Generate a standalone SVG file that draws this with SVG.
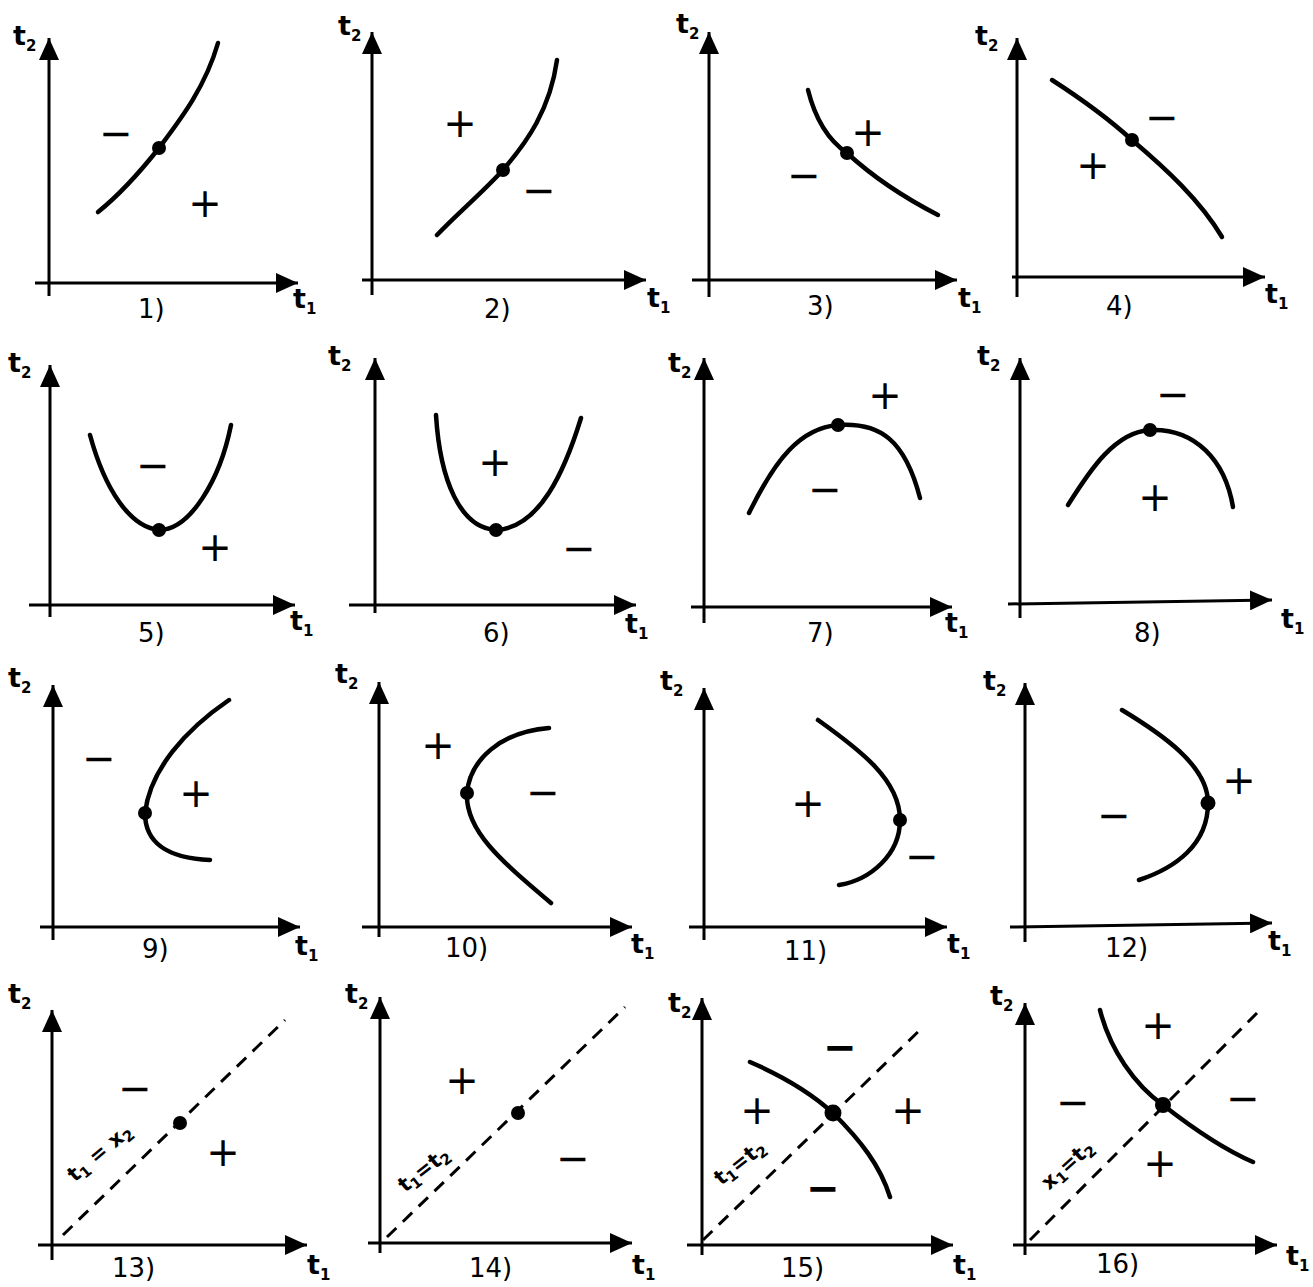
<svg xmlns="http://www.w3.org/2000/svg" width="1313" height="1287" viewBox="0 0 1313 1287">
<style>
.ax{stroke:#000;stroke-width:3;fill:none;marker-end:url(#arr)}
.cv{stroke:#000;stroke-width:4.5;fill:none;stroke-linecap:round}
.ds{stroke:#000;stroke-width:3;fill:none;stroke-dasharray:13 9}
.dot{fill:#000}
.lb{font-family:"DejaVu Sans","Liberation Sans",sans-serif;font-size:27px;font-weight:bold;fill:#000}
.sb{font-size:15px}
.nm{font-family:"DejaVu Sans","Liberation Sans",sans-serif;font-size:26px;fill:#000}
.sg{font-family:"DejaVu Sans","Liberation Sans",sans-serif;font-size:40px;fill:#000;text-anchor:middle;dominant-baseline:central}
.bd{font-weight:bold}
.dl{font-family:"DejaVu Sans","Liberation Sans",sans-serif;font-size:21px;font-weight:bold;fill:#000;text-anchor:middle}
</style>
<defs>
<marker id="arr" viewBox="0 0 22 20" refX="22" refY="10" markerWidth="22" markerHeight="20" markerUnits="userSpaceOnUse" orient="auto">
<path d="M0,0 L22,10 L0,20 Z" fill="#000"/>
</marker>
</defs>
<rect width="1313" height="1287" fill="#fff"/>

<g id="panel-1">
<path class="ax" d="M49,296 L49,38"/><path class="ax" d="M35,283 L298,283"/>
<path class="cv" d="M98,212 C118,196 140,172 159,148 C180,120 205,88 218,43"/>
<circle class="dot" cx="159" cy="148" r="7"/>
<text class="sg" x="116" y="133">−</text><text class="sg" x="205" y="203">+</text>
<text class="lb" x="13" y="45">t<tspan class="sb" dy="6">2</tspan></text>
<text class="lb" x="293" y="308">t<tspan class="sb" dy="6">1</tspan></text>
<text class="nm" x="138" y="318">1)</text>
</g>

<g id="panel-2">
<path class="ax" d="M372,295 L372,32"/><path class="ax" d="M362,280 L646,280"/>
<path class="cv" d="M437,235 C458,213 482,193 503,170 C527,142 550,110 557,60"/>
<circle class="dot" cx="503" cy="170" r="7"/>
<text class="sg" x="460" y="123">+</text><text class="sg" x="539" y="190">−</text>
<text class="lb" x="338" y="35">t<tspan class="sb" dy="6">2</tspan></text>
<text class="lb" x="647" y="307">t<tspan class="sb" dy="6">1</tspan></text>
<text class="nm" x="484" y="318">2)</text>
</g>

<g id="panel-3">
<path class="ax" d="M709,297 L709,32"/><path class="ax" d="M692,280 L957,280"/>
<path class="cv" d="M808,90 C815,118 828,140 847,153 C872,176 905,198 938,215"/>
<circle class="dot" cx="847" cy="153" r="7"/>
<text class="sg" x="868" y="132">+</text><text class="sg" x="804" y="175">−</text>
<text class="lb" x="676" y="33">t<tspan class="sb" dy="6">2</tspan></text>
<text class="lb" x="958" y="307">t<tspan class="sb" dy="6">1</tspan></text>
<text class="nm" x="807" y="315">3)</text>
</g>

<g id="panel-4">
<path class="ax" d="M1017,297 L1017,38"/><path class="ax" d="M1012,277 L1265,277"/>
<path class="cv" d="M1052,80 C1080,98 1110,120 1132,140 C1165,168 1200,200 1222,237"/>
<circle class="dot" cx="1132" cy="140" r="7"/>
<text class="sg" x="1162" y="117">−</text><text class="sg" x="1093" y="165">+</text>
<text class="lb" x="975" y="45">t<tspan class="sb" dy="6">2</tspan></text>
<text class="lb" x="1265" y="303">t<tspan class="sb" dy="6">1</tspan></text>
<text class="nm" x="1106" y="315">4)</text>
</g>

<g id="panel-5">
<path class="ax" d="M50,617 L50,365"/><path class="ax" d="M29,605 L295,605"/>
<path class="cv" d="M90,435 C105,490 130,527 159,530 C190,530 220,480 231,425"/>
<circle class="dot" cx="159" cy="530" r="7"/>
<text class="sg" x="153" y="465">−</text><text class="sg" x="215" y="547">+</text>
<text class="lb" x="8" y="372">t<tspan class="sb" dy="6">2</tspan></text>
<text class="lb" x="290" y="630">t<tspan class="sb" dy="6">1</tspan></text>
<text class="nm" x="138" y="642">5)</text>
</g>

<g id="panel-6">
<path class="ax" d="M375,613 L375,358"/><path class="ax" d="M349,605 L636,605"/>
<path class="cv" d="M436,415 C440,480 460,528 496,530 C540,528 565,470 581,418"/>
<circle class="dot" cx="496" cy="530" r="7"/>
<text class="sg" x="495" y="462">+</text><text class="sg" x="579" y="548">−</text>
<text class="lb" x="328" y="365">t<tspan class="sb" dy="6">2</tspan></text>
<text class="lb" x="625" y="633">t<tspan class="sb" dy="6">1</tspan></text>
<text class="nm" x="483" y="642">6)</text>
</g>

<g id="panel-7">
<path class="ax" d="M704,623 L704,358"/><path class="ax" d="M691,607 L952,607"/>
<path class="cv" d="M749,513 C775,460 800,428 838,425 C880,422 905,440 920,498"/>
<circle class="dot" cx="838" cy="425" r="7"/>
<text class="sg" x="885" y="395">+</text><text class="sg" x="825" y="489">−</text>
<text class="lb" x="668" y="372">t<tspan class="sb" dy="6">2</tspan></text>
<text class="lb" x="945" y="632">t<tspan class="sb" dy="6">1</tspan></text>
<text class="nm" x="807" y="642">7)</text>
</g>

<g id="panel-8">
<path class="ax" d="M1020,618 L1020,358"/><path class="ax" d="M1008,604 L1272,600"/>
<path class="cv" d="M1068,505 C1090,470 1115,432 1150,430 C1195,428 1225,460 1233,507"/>
<circle class="dot" cx="1150" cy="430" r="7"/>
<text class="sg" x="1173" y="394">−</text><text class="sg" x="1155" y="497">+</text>
<text class="lb" x="977" y="365">t<tspan class="sb" dy="6">2</tspan></text>
<text class="lb" x="1281" y="628">t<tspan class="sb" dy="6">1</tspan></text>
<text class="nm" x="1134" y="642">8)</text>
</g>

<g id="panel-9">
<path class="ax" d="M53,940 L53,685"/><path class="ax" d="M40,927 L300,927"/>
<path class="cv" d="M229,700 C185,730 150,770 145,813 C145,845 170,858 210,860"/>
<circle class="dot" cx="145" cy="813" r="7"/>
<text class="sg" x="99" y="758">−</text><text class="sg" x="196" y="793">+</text>
<text class="lb" x="8" y="687">t<tspan class="sb" dy="6">2</tspan></text>
<text class="lb" x="295" y="955">t<tspan class="sb" dy="6">1</tspan></text>
<text class="nm" x="142" y="958">9)</text>
</g>

<g id="panel-10">
<path class="ax" d="M379,937 L379,682"/><path class="ax" d="M362,927 L632,927"/>
<path class="cv" d="M549,728 C500,732 470,760 467,793 C465,830 500,860 551,903"/>
<circle class="dot" cx="467" cy="793" r="7"/>
<text class="sg" x="438" y="745">+</text><text class="sg" x="543" y="792">−</text>
<text class="lb" x="335" y="683">t<tspan class="sb" dy="6">2</tspan></text>
<text class="lb" x="631" y="953">t<tspan class="sb" dy="6">1</tspan></text>
<text class="nm" x="445" y="957">10)</text>
</g>

<g id="panel-11">
<path class="ax" d="M704,940 L704,688"/><path class="ax" d="M689,927 L947,927"/>
<path class="cv" d="M818,720 C860,750 900,780 900,820 C900,855 870,880 839,885"/>
<circle class="dot" cx="900" cy="820" r="7"/>
<text class="sg" x="808" y="803">+</text><text class="sg" x="922" y="856">−</text>
<text class="lb" x="660" y="690">t<tspan class="sb" dy="6">2</tspan></text>
<text class="lb" x="947" y="953">t<tspan class="sb" dy="6">1</tspan></text>
<text class="nm" x="784" y="960">11)</text>
</g>

<g id="panel-12">
<path class="ax" d="M1025,942 L1025,683"/><path class="ax" d="M1010,927 L1272,923"/>
<path class="cv" d="M1122,710 C1160,733 1208,765 1208,803 C1208,845 1175,868 1139,880"/>
<circle class="dot" cx="1208" cy="803" r="7.5"/>
<text class="sg" x="1239" y="780">+</text><text class="sg" x="1114" y="815">−</text>
<text class="lb" x="983" y="690">t<tspan class="sb" dy="6">2</tspan></text>
<text class="lb" x="1268" y="950">t<tspan class="sb" dy="6">1</tspan></text>
<text class="nm" x="1105" y="957">12)</text>
</g>

<g id="panel-13">
<path class="ax" d="M52,1260 L52,1010"/><path class="ax" d="M38,1245 L307,1245"/>
<path class="ds" d="M63,1235 L285,1020"/>
<circle class="dot" cx="180" cy="1123" r="7"/>
<text class="sg" x="135" y="1088">−</text><text class="sg" x="223" y="1152">+</text>
<text class="dl" transform="translate(104,1158) rotate(-40)">t<tspan class="sb" dy="4">1</tspan><tspan dy="-4"> = x</tspan><tspan class="sb" dy="4">2</tspan></text>
<text class="lb" x="8" y="1003">t<tspan class="sb" dy="6">2</tspan></text>
<text class="lb" x="307" y="1274">t<tspan class="sb" dy="6">1</tspan></text>
<text class="nm" x="112" y="1277">13)</text>
</g>

<g id="panel-14">
<path class="ax" d="M380,1253 L380,997"/><path class="ax" d="M368,1243 L632,1243"/>
<path class="ds" d="M387,1237 L625,1007"/>
<circle class="dot" cx="518" cy="1113" r="7"/>
<text class="sg" x="462" y="1080">+</text><text class="sg" x="573" y="1158">−</text>
<text class="dl" transform="translate(428,1175) rotate(-38)">t<tspan class="sb" dy="4">1</tspan><tspan dy="-4">=t</tspan><tspan class="sb" dy="4">2</tspan></text>
<text class="lb" x="345" y="1003">t<tspan class="sb" dy="6">2</tspan></text>
<text class="lb" x="632" y="1274">t<tspan class="sb" dy="6">1</tspan></text>
<text class="nm" x="469" y="1277">14)</text>
</g>

<g id="panel-15">
<path class="ax" d="M702,1255 L702,998"/><path class="ax" d="M687,1245 L953,1245"/>
<path class="ds" d="M703,1240 L922,1028"/>
<path class="cv" d="M750,1062 C780,1075 810,1092 833,1113 C860,1140 880,1165 890,1197"/>
<circle class="dot" cx="833" cy="1113" r="8.5"/>
<text class="sg bd" x="840" y="1047">−</text><text class="sg" x="757" y="1110">+</text>
<text class="sg" x="908" y="1110">+</text><text class="sg bd" x="823" y="1188">−</text>
<text class="dl" transform="translate(744,1168) rotate(-38)">t<tspan class="sb" dy="4">1</tspan><tspan dy="-4">=t</tspan><tspan class="sb" dy="4">2</tspan></text>
<text class="lb" x="668" y="1012">t<tspan class="sb" dy="6">2</tspan></text>
<text class="lb" x="953" y="1274">t<tspan class="sb" dy="6">1</tspan></text>
<text class="nm" x="781" y="1277">15)</text>
</g>

<g id="panel-16">
<path class="ax" d="M1025,1255 L1025,1003"/><path class="ax" d="M1013,1245 L1277,1245"/>
<path class="ds" d="M1030,1240 L1263,1007"/>
<path class="cv" d="M1100,1010 C1110,1050 1135,1085 1163,1105 C1195,1130 1225,1150 1253,1162"/>
<circle class="dot" cx="1163" cy="1105" r="8"/>
<text class="sg" x="1158" y="1025">+</text><text class="sg" x="1073" y="1102">−</text>
<text class="sg" x="1243" y="1098">−</text><text class="sg" x="1160" y="1163">+</text>
<text class="dl" transform="translate(1072,1170) rotate(-42)">x<tspan class="sb" dy="4">1</tspan><tspan dy="-4">=t</tspan><tspan class="sb" dy="4">2</tspan></text>
<text class="lb" x="990" y="1005">t<tspan class="sb" dy="6">2</tspan></text>
<text class="lb" x="1286" y="1265">t<tspan class="sb" dy="6">1</tspan></text>
<text class="nm" x="1096" y="1273">16)</text>
</g>
</svg>
